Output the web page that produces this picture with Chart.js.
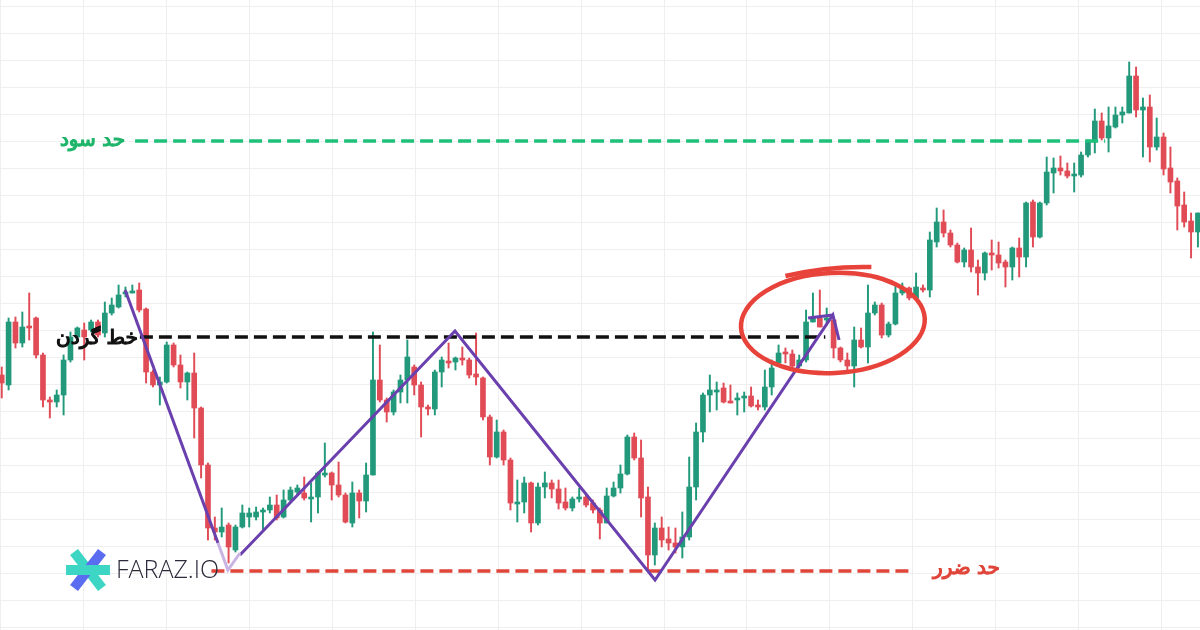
<!DOCTYPE html>
<html lang="fa">
<head>
<meta charset="utf-8">
<script src="https://cdn.jsdelivr.net/npm/chart.js@4.4.1/dist/chart.umd.min.js"></script>
<style>
  html, body { margin: 0; padding: 0; background: #fff; }
  #wrap { width: 1200px; height: 630px; }
</style>
</head>
<body>
<div id="wrap"><canvas id="chart" width="1200" height="630"></canvas></div>
<script>
// price levels are measured top-down (axis reversed), candle index along x
const opens = [375,385,322,343,326,318,355,400,402,395,360,337,330,330,322,333,313,307,294,292,
  290,309,372,385,382,345,365,382,373,408,465,528,532,525,550,527,517,517,512,510,
  505,517,500,492,493,498,497,475,473,485,495,523,493,501,475,380,400,412,392,380,
  367,385,407,409,372,361,362,358,360,374,378,417,457,432,460,503,502,483,523,487,
  483,489,502,508,499,497,503,510,523,496,488,474,437,458,497,555,528,539,543,547,
  537,487,432,395,391,388,401,400,398,396,405,407,387,363,352,354,366,360,322,318,
  320,320,348,360,366,340,347,313,305,335,324,293,288,298,288,290,242,222,233,245,
  262,250,267,273,253,255,262,267,248,257,202,237,203,173,168,171,176,175,155,142,
  121,138,127,115,113,76,110,107,147,137,168,181,205,221,232];
const closes = [383,322,343,327,328,355,400,401,395,360,337,328,337,322,335,313,305,295,292,291,
  310,372,385,382,345,365,382,373,408,465,528,532,527,547,527,513,513,512,510,505,
  518,500,490,488,498,497,473,473,485,495,522,493,501,475,380,400,412,392,380,357,
  385,407,409,372,360,362,358,359,375,377,417,457,432,460,503,502,483,523,487,483,
  489,503,508,499,497,505,510,523,496,488,474,437,458,498,555,528,540,543,547,537,
  487,432,395,390,390,402,402,398,396,406,407,387,368,353,354,366,360,322,318,327,
  318,348,360,366,340,347,313,305,335,324,293,288,298,287,290,240,222,233,245,262,
  250,267,273,253,255,263,267,248,257,203,237,203,172,168,171,176,174,155,142,121,
  138,126,115,112,76,110,107,147,137,169,182,206,222,232,213];
const highs = [367,318,317,312,293,317,353,397,390,355,332,327,323,320,320,302,298,285,287,285,
  283,308,370,377,342,343,355,372,353,407,463,517,508,523,525,505,508,507,508,497,
  495,490,487,485,477,483,472,443,472,462,493,482,490,463,332,345,398,390,375,340,
  365,382,405,370,357,343,357,347,358,333,377,415,420,430,458,480,477,482,483,472,
  480,480,488,497,488,495,500,508,488,482,465,435,433,440,487,523,517,527,528,512,
  457,423,393,375,382,383,385,393,392,387,400,370,360,345,348,350,355,310,293,290,
  308,318,347,353,327,328,285,302,303,322,285,283,287,273,285,232,208,210,230,243,
  248,228,260,252,240,242,260,247,238,202,200,202,157,158,156,163,163,152,140,109,
  113,107,107,107,62,67,98,95,118,133,147,178,192,213,213];
const lows = [398,390,348,347,340,358,407,418,407,415,362,338,360,332,337,337,315,308,297,293,
  312,383,387,405,383,367,388,400,438,478,540,540,537,563,552,528,527,520,530,513,
  520,518,502,495,500,522,513,477,500,497,523,527,518,512,475,402,422,415,403,403,
  395,437,415,415,387,368,370,365,378,385,420,465,458,465,510,522,513,532,525,498,
  498,509,510,511,502,507,513,539,523,497,493,475,460,517,570,565,547,550,553,558,
  540,500,442,412,410,403,403,415,412,407,410,410,395,363,363,368,368,362,322,327,
  325,358,362,373,387,348,363,315,338,337,325,295,300,300,292,297,247,237,247,263,
  267,272,295,280,270,268,287,280,277,267,247,238,205,193,175,178,192,177,157,153,
  140,152,128,123,113,117,157,162,150,175,193,230,227,258,247];

// drawn pattern and levels (index, level)
const legDownX = [17.95, 31.46];
const legDownY = [290, 543];
const kneeX = [31.46, 32.9, 34.66];
const kneeY = [543, 570, 553];
const zigzagX = [34.66, 65.93, 95.03, 120.9, 121.8];
const zigzagY = [555, 331, 580, 315, 340];
const arrowX = [117.3, 120.9];
const arrowY = [318, 315];
const profitLevel = 141, profitFrom = 19.4, profitTo = 160.5;
const neckLevel = 337, neckFrom = 20.1, neckTo = 119.8;
const stopLevel = 571, stopFrom = 30.5, stopTo = 132.1;
const labels = ['حد سود', 'خط گردن', 'حد ضرر'];

const GREEN = '#22997a', RED = '#e04b56', PURPLE = '#6a3fae';
const idx = opens.map((_, i) => i);
const candleColor = idx.map(i => closes[i] <= opens[i] ? GREEN : RED);

function seg(xs, ys) { return xs.map((x, i) => ({ x: x, y: ys[i] })); }
function lineSet(label, pts, color, dashed) {
  return { type: 'line', label: label, data: pts, borderColor: color, borderWidth: dashed ? 3.5 : 3,
    borderDash: dashed ? [13, 6] : [], pointRadius: 0, tension: 0, order: dashed ? 1 : 0 };
}

const overlay = {
  id: 'overlay',
  afterDatasetsDraw(chart) {
    const { ctx, scales: { x, y } } = chart;
    ctx.save();
    // ellipse around the breakout
    ctx.strokeStyle = '#e8433a';
    ctx.lineWidth = 4.5;
    ctx.beginPath();
    ctx.ellipse(x.getPixelForValue(120.9), y.getPixelForValue(323), 92, 50, -0.05, 0, Math.PI * 2);
    ctx.stroke();
    ctx.beginPath();
    ctx.moveTo(x.getPixelForValue(114), y.getPixelForValue(276));
    ctx.quadraticCurveTo(x.getPixelForValue(120), y.getPixelForValue(266), x.getPixelForValue(126.5), y.getPixelForValue(267));
    ctx.stroke();

    // level labels
    ctx.font = '20px "DejaVu Sans"';
    ctx.direction = 'rtl';
    ctx.textAlign = 'right';
    ctx.textBaseline = 'middle';
    ctx.lineWidth = 1.2;
    const txt = (s, px, py, c) => {
      ctx.fillStyle = c; ctx.strokeStyle = c;
      ctx.fillText(s, px, py); ctx.strokeText(s, px, py);
    };
    txt(labels[0], x.getPixelForValue(profitFrom) - 10, y.getPixelForValue(profitLevel), '#1db56a');
    txt(labels[1], x.getPixelForValue(neckFrom) - 2, y.getPixelForValue(neckLevel) + 2, '#111');
    txt(labels[2], x.getPixelForValue(stopTo) + 90, y.getPixelForValue(stopLevel) - 2, '#e0453a');
    ctx.direction = 'ltr';

    // logo
    ctx.lineWidth = 10;
    ctx.strokeStyle = '#3dd6c4';
    ctx.beginPath(); ctx.moveTo(74, 552); ctx.lineTo(102, 588); ctx.stroke();
    ctx.strokeStyle = '#5a6cf0';
    ctx.beginPath(); ctx.moveTo(102, 552); ctx.lineTo(74, 588); ctx.stroke();
    ctx.strokeStyle = '#3dd6c4';
    ctx.beginPath(); ctx.moveTo(66, 570); ctx.lineTo(110, 570); ctx.stroke();
    ctx.font = '300 25px "Open Sans"';
    ctx.textAlign = 'left';
    ctx.fillStyle = '#2b2b3b';
    ctx.fillText('FARAZ.IO', 116, 571);
    ctx.restore();
  }
};

new Chart(document.getElementById('chart'), {
  type: 'bar',
  data: {
    datasets: [
      {
        label: 'wick',
        data: idx.map(i => ({ x: i, y: [highs[i], lows[i]] })),
        backgroundColor: candleColor,
        barThickness: 1.3,
        grouped: false,
        order: 3
      },
      {
        label: 'body',
        data: idx.map(i => ({ x: i, y: [opens[i], closes[i]] })),
        backgroundColor: candleColor,
        barThickness: 5,
        minBarLength: 2,
        grouped: false,
        order: 2
      },
      lineSet('profit', [{ x: profitFrom, y: profitLevel }, { x: profitTo, y: profitLevel }], '#1fc07a', true),
      lineSet('neck', [{ x: neckFrom, y: neckLevel }, { x: neckTo, y: neckLevel }], '#111', true),
      lineSet('stop', [{ x: stopFrom, y: stopLevel }, { x: stopTo, y: stopLevel }], '#e0453a', true),
      lineSet('knee', seg(kneeX, kneeY), '#c9b3e3', false),
      lineSet('legDown', seg(legDownX, legDownY), PURPLE, false),
      lineSet('zigzag', seg(zigzagX, zigzagY), PURPLE, false),
      lineSet('arrow', seg(arrowX, arrowY), PURPLE, false)
    ]
  },
  options: {
    responsive: false,
    animation: false,
    layout: { padding: 0 },
    plugins: { legend: { display: false }, tooltip: { enabled: false } },
    scales: {
      x: {
        type: 'linear', min: -0.25, max: 174.3, offset: false,
        ticks: { display: false },
        border: { display: false },
        grid: { color: '#efefef', drawTicks: false, offset: false },
        afterBuildTicks: s => { s.ticks = Array.from({ length: 15 }, (_, k) => ({ value: (83 * k - 1.7) / 6.875 })); },
        afterFit: s => { s.height = 0; }
      },
      y: {
        min: 0, max: 630, reverse: true,
        ticks: { display: false },
        border: { display: false },
        grid: { color: '#efefef', drawTicks: false },
        afterBuildTicks: s => { s.ticks = Array.from({ length: 24 }, (_, k) => ({ value: 6 + 27 * k })); },
        afterFit: s => { s.width = 0; }
      }
    }
  },
  plugins: [overlay]
});
</script>
</body>
</html>
